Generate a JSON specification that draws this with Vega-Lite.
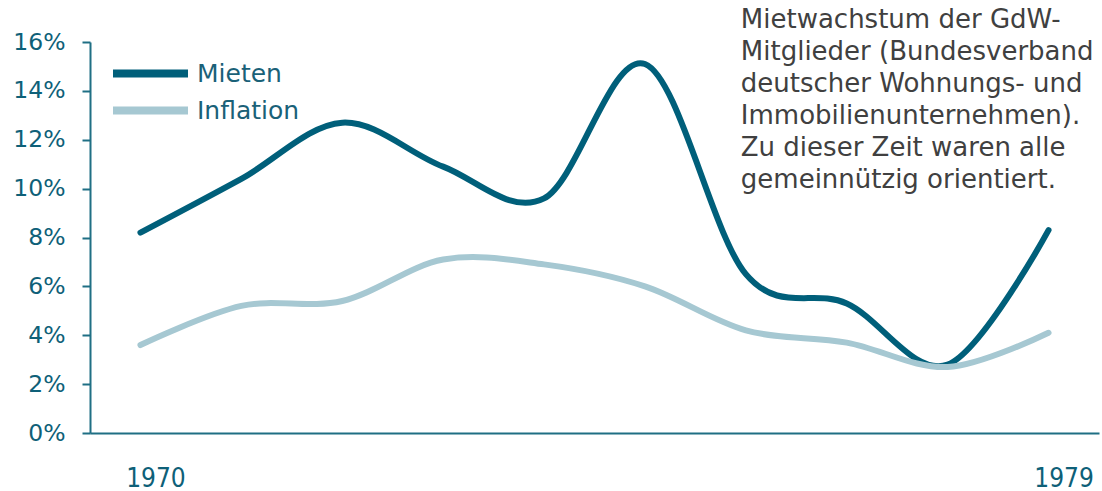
{
  "$schema": "https://vega.github.io/schema/vega-lite/v6.json",
  "width": 1009,
  "height": 391,
  "autosize": {"type": "none"},
  "padding": {"left": 90, "top": 42, "right": 3, "bottom": 58},
  "background": "white",
  "config": {
    "view": {"stroke": null},
    "font": "DejaVu Sans"
  },
  "layer": [
    {
      "data": {
        "values": [
          {"year": 1970, "series": "Mieten", "value": 0.082},
          {"year": 1971, "series": "Mieten", "value": 0.104},
          {"year": 1972, "series": "Mieten", "value": 0.127},
          {"year": 1973, "series": "Mieten", "value": 0.109},
          {"year": 1974, "series": "Mieten", "value": 0.096},
          {"year": 1975, "series": "Mieten", "value": 0.151},
          {"year": 1976, "series": "Mieten", "value": 0.065},
          {"year": 1977, "series": "Mieten", "value": 0.053},
          {"year": 1978, "series": "Mieten", "value": 0.028},
          {"year": 1979, "series": "Mieten", "value": 0.083},
          {"year": 1970, "series": "Inflation", "value": 0.036},
          {"year": 1971, "series": "Inflation", "value": 0.052},
          {"year": 1972, "series": "Inflation", "value": 0.054},
          {"year": 1973, "series": "Inflation", "value": 0.071},
          {"year": 1974, "series": "Inflation", "value": 0.069},
          {"year": 1975, "series": "Inflation", "value": 0.060},
          {"year": 1976, "series": "Inflation", "value": 0.042},
          {"year": 1977, "series": "Inflation", "value": 0.037},
          {"year": 1978, "series": "Inflation", "value": 0.027},
          {"year": 1979, "series": "Inflation", "value": 0.041}
        ]
      },
      "mark": {"type": "line", "interpolate": "cardinal", "strokeWidth": 6, "strokeCap": "round"},
      "encoding": {
        "x": {
          "field": "year", "type": "quantitative",
          "scale": {"domain": [1969.5, 1979.5], "nice": false, "zero": false},
          "axis": {
            "title": null, "values": [1970, 1979], "format": "d", "ticks": false, "grid": false,
            "labelPadding": 32, "labelFontSize": 26, "labelFont": "DejaVu Sans Condensed, Liberation Sans",
            "labelOffset": 15, "labelColor": "#0e6078", "domainColor": "#1f6f84", "domainWidth": 2
          }
        },
        "y": {
          "field": "value", "type": "quantitative",
          "scale": {"domain": [0, 0.16], "nice": false},
          "axis": {
            "title": null, "values": [0, 0.02, 0.04, 0.06, 0.08, 0.1, 0.12, 0.14, 0.16],
            "format": ".0%", "grid": false, "tickSize": 8, "tickWidth": 2, "tickColor": "#1f6f84",
            "domainColor": "#1f6f84", "domainWidth": 2, "labelPadding": 17,
            "labelFontSize": 23.5, "labelColor": "#0e6078"
          }
        },
        "color": {
          "field": "series", "type": "nominal",
          "scale": {"domain": ["Mieten", "Inflation"], "range": ["#005f7a", "#a6c8d2"]},
          "legend": {
            "title": null, "orient": "none", "legendX": 44, "legendY": 15,
            "symbolType": "M-3,0H3", "symbolSize": 625, "symbolStrokeWidth": 8,
            "labelFontSize": 25, "labelColor": "#1a6178", "rowPadding": 4, "labelOffset": 30
          }
        },
        "detail": {"field": "series"}
      }
    },
    {
      "data": {"values": [{"year": 1975.95, "value": 0.1745, "note": ["Mietwachstum der GdW-", "Mitglieder (Bundesverband", "deutscher Wohnungs- und", "Immobilienunternehmen).", "Zu dieser Zeit waren alle", "gemeinnützig orientiert."]}]},
      "mark": {"type": "text", "align": "left", "baseline": "top", "fontSize": 26, "lineHeight": 32, "color": "#404040", "clip": false},
      "encoding": {
        "x": {"field": "year", "type": "quantitative"},
        "y": {"field": "value", "type": "quantitative"},
        "text": {"field": "note"}
      }
    }
  ]
}
